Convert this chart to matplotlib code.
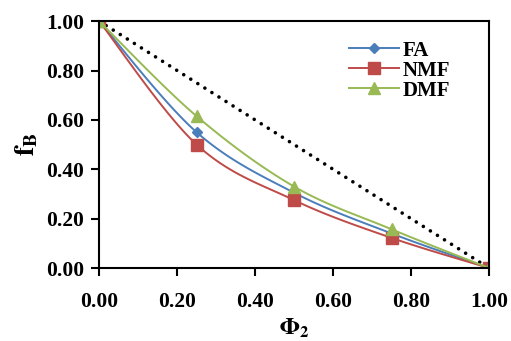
import numpy as np
import matplotlib
matplotlib.use("Agg")
import matplotlib.pyplot as plt

phi = [0.0, 0.25, 0.5, 0.75, 1.0]
fa = [1.0, 0.55, 0.305, 0.14, 0.0]
nmf = [1.0, 0.50, 0.275, 0.122, 0.0]
dmf = [1.0, 0.615, 0.33, 0.157, 0.0]
ideal_x = [0.0, 1.0]
ideal_y = [1.0, 0.0]
ticks = [0.0, 0.2, 0.4, 0.6, 0.8, 1.0]

plt.rcParams['font.family'] = ['Liberation Serif', 'DejaVu Serif']
plt.rcParams['font.weight'] = 'bold'
plt.rcParams['mathtext.fontset'] = 'stix'


def smooth(x, y, n=30):
    # Catmull-Rom smoothing (Excel-style smoothed line)
    x = np.asarray(x, float); y = np.asarray(y, float)
    P = np.column_stack([x, y])
    P = np.vstack([P[0], P, P[-1]])
    out = []
    for i in range(1, len(P) - 2):
        p0, p1, p2, p3 = P[i - 1], P[i], P[i + 1], P[i + 2]
        t = np.linspace(0, 1, n)[:, None]
        seg = 0.5 * ((2 * p1) + (-p0 + p2) * t + (2 * p0 - 5 * p1 + 4 * p2 - p3) * t ** 2
                     + (-p0 + 3 * p1 - 3 * p2 + p3) * t ** 3)
        out.append(seg if i == 1 else seg[1:])
    s = np.vstack(out)
    return s[:, 0], s[:, 1]


fig = plt.figure(figsize=(5.11, 3.41), dpi=100)
ax = fig.add_axes([0.194, 0.214, 0.763, 0.724])

ax.plot(ideal_x, ideal_y, color='black', linestyle=(0, (0.01, 2.3)), linewidth=2.6,
        dash_capstyle='round')

series = [(fa, 'FA', '#4a7ebb', 'D', 5.5), (nmf, 'NMF', '#be4b48', 's', 8), (dmf, 'DMF', '#98b954', '^', 8)]
handles = []
for ys, name, col, mk, ms in series:
    sx, sy = smooth(phi, ys)
    ax.plot(sx, sy, color=col, linewidth=1.4)
    ax.plot(phi, ys, linestyle='none', marker=mk, color=col, markersize=ms)
    h, = ax.plot([], [], color=col, linewidth=1.4, marker=mk, markersize=ms, label=name)
    handles.append(h)

ax.set_xlim(0, 1)
ax.set_ylim(0, 1)
ax.set_xticks(ticks)
ax.set_yticks(ticks)
ax.set_xticklabels([f"{t:.2f}" for t in ticks])
ax.set_yticklabels([f"{t:.2f}" for t in ticks])
ax.tick_params(direction='out', length=6, width=1.5, labelsize=15.5, pad=5)
for sp in ax.spines.values():
    sp.set_linewidth(1.5)
for lab in ax.get_xticklabels() + ax.get_yticklabels():
    lab.set_fontweight('bold')
ax.tick_params(axis='x', pad=11)

ax.set_xlabel(r'$\mathbf{\Phi}_\mathbf{2}$', fontsize=17, labelpad=4)
ax.set_ylabel(r'$\mathbf{f}_\mathbf{B}$', fontsize=20, labelpad=4)

ax.legend(handles=handles, loc='upper left', bbox_to_anchor=(0.62, 0.955), frameon=False,
          prop={'family': 'Liberation Serif', 'weight': 'bold', 'size': 15},
          handlelength=2.4, handletextpad=0.15, labelspacing=0.0, borderaxespad=0)

fig.savefig('out.png', dpi=100)
